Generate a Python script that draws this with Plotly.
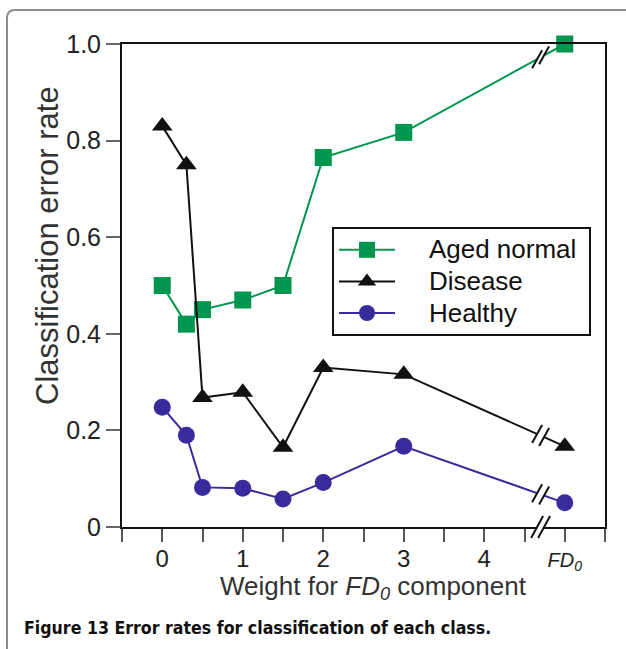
import plotly.graph_objects as go
import numpy as np

# ---------------- data ----------------
weights = [0, 0.3, 0.5, 1, 1.5, 2, 3, 5]          # 5 == "FD0" column
aged_normal = [0.50, 0.42, 0.45, 0.47, 0.50, 0.765, 0.817, 1.0]
disease = [0.83, 0.75, 0.268, 0.279, 0.165, 0.33, 0.316, 0.167]
healthy = [0.248, 0.19, 0.082, 0.08, 0.058, 0.092, 0.167, 0.05]

series_names = ["Aged normal", "Disease", "Healthy"]
series_colors = ["#00964f", "#111111", "#3a2b9c"]
series_symbols = ["square", "triangle-up", "circle"]

x_tick_vals = [-0.5, 0, 0.5, 1, 1.5, 2, 2.5, 3, 3.5, 4, 4.5, 5, 5.5]
x_tick_text = ["", "0", "", "1", "", "2", "", "3", "", "4", "",
               "<i><span style='font-size:20px'>FD<sub>0</sub></span></i>", ""]
y_tick_vals = [0, 0.2, 0.4, 0.6, 0.8, 1.0]
y_tick_text = ["0", "0.2", "0.4", "0.6", "0.8", "1.0"]

x_range = [-0.5, 5.5]
y_range = [0, 1.0]
break_x = 4.7

# ---------------- layout constants ----------------
W, H = 626, 649
ML, MR, MT, MB = 122, 21, 44, 122
PW, PH = W - ML - MR, H - MT - MB
dx = (x_range[1] - x_range[0]) / PW   # data units per px (x)
dy = (y_range[1] - y_range[0]) / PH   # data units per px (y)
FONT = "Liberation Sans, Arial, Helvetica, sans-serif"
NB = "\u00a0"


def px_x(p):
    return (p - ML) / PW


def px_y(p):
    return (H - MB - p) / PH


fig = go.Figure()
all_series = [aged_normal, disease, healthy]
for name, vals, col, sym in zip(series_names, all_series, series_colors, series_symbols):
    fig.add_trace(go.Scatter(
        x=weights, y=vals,
        name=f"<span style='font-size:26px'>{NB * 4}{name}{NB}</span>",
        mode="lines+markers",
        line=dict(color=col, width=2),
        marker=dict(symbol=sym, size=17 if sym != "triangle-up" else 18, color=col),
        cliponaxis=False,
    ))

shapes = []
gap = 3.5  # half distance between the two slashes (px)


def slash(cx, cy, yref="y", half_w=5, half_h=9):
    return dict(type="line", xref="x", yref=yref, layer="above",
                x0=cx - half_w * dx, y0=cy - half_h * dy,
                x1=cx + half_w * dx, y1=cy + half_h * dy,
                line=dict(color="#111111", width=2))


# break marks on each series line (interpolated between the x=3 and FD0 points)
for vals in all_series:
    xs = np.array(weights[-2:], dtype=float)
    ys = np.array(vals[-2:], dtype=float)
    c1, c2 = break_x - gap * dx, break_x + gap * dx
    y1, y2 = np.interp([c1, c2], xs, ys)
    shapes.append(dict(type="line", xref="x", yref="y", layer="above",
                       x0=c1, y0=y1, x1=c2, y1=y2,
                       line=dict(color="white", width=5)))
    shapes.append(slash(c1, y1))
    shapes.append(slash(c2, y2))

# break mark on the x axis
c1, c2 = break_x - gap * dx, break_x + gap * dx
shapes.append(dict(type="line", xref="x", yref="paper", layer="above",
                   x0=c1, y0=0, x1=c2, y1=0, line=dict(color="white", width=5)))
shapes.append(slash(c1, 0, yref="paper", half_w=6, half_h=11))
shapes.append(slash(c2, 0, yref="paper", half_w=6, half_h=11))

# outer rounded frame (paper coordinates)
r = 8
fx0, fy0 = 7, 10
fx1, fy1 = 640, 670
path = (f"M {px_x(fx0)},{px_y(fy1)} L {px_x(fx0)},{px_y(fy0 + r)} "
        f"Q {px_x(fx0)},{px_y(fy0)} {px_x(fx0 + r)},{px_y(fy0)} "
        f"L {px_x(fx1)},{px_y(fy0)}")
shapes.append(dict(type="path", xref="paper", yref="paper", layer="below",
                   path=path, line=dict(color="#8c8c8c", width=2)))

fig.update_layout(
    width=W, height=H,
    margin=dict(l=ML, r=MR, t=MT, b=MB, pad=0),
    paper_bgcolor="white", plot_bgcolor="white",
    font=dict(family=FONT, size=24, color="#222222"),
    showlegend=True,
    legend=dict(x=px_x(332), y=px_y(227), xanchor="left", yanchor="top",
                bgcolor="white", bordercolor="#111111", borderwidth=2,
                font=dict(size=22, color="#111111"), itemwidth=56,
                tracegroupgap=0),
    shapes=shapes,
    xaxis=dict(range=x_range, tickmode="array", tickvals=x_tick_vals, ticktext=x_tick_text,
               showgrid=False, zeroline=False, showline=True, mirror=True,
               linecolor="#111111", linewidth=2, ticks="outside", ticklen=13,
               tickwidth=1.5, tickcolor="#555555", ticklabelstandoff=-4,
               tickfont=dict(size=24, color="#222222")),
    yaxis=dict(range=y_range, tickmode="array", tickvals=y_tick_vals, ticktext=y_tick_text,
               showgrid=False, zeroline=False, showline=True, mirror=True,
               linecolor="#111111", linewidth=2, ticks="outside", ticklen=14,
               tickwidth=1.5, tickcolor="#666666",
               tickfont=dict(size=25, color="#222222")),
    annotations=[
        dict(xref="paper", yref="paper", x=px_x(373), y=px_y(587),
             xanchor="center", yanchor="middle", showarrow=False,
             text="Weight for <i>FD<sub>0</sub></i> component",
             font=dict(family=FONT, size=26, color="#333333")),
        dict(xref="paper", yref="paper", x=px_x(47), y=px_y(246),
             xanchor="center", yanchor="middle", showarrow=False, textangle=-90,
             text="Classification error rate",
             font=dict(family=FONT, size=31, color="#333333")),
        dict(xref="paper", yref="paper", x=px_x(22), y=px_y(628),
             xanchor="left", yanchor="middle", showarrow=False,
             text="<b>Figure 13 Error rates for classification of each class.</b>",
             font=dict(family="Liberation Sans Narrow, DejaVu Sans Condensed, Liberation Sans, sans-serif",
                       size=17.6, color="#111111")),
    ],
)

fig.write_html("out.html", config={"displayModeBar": False},
               post_script="document.body.style.margin='0';")
